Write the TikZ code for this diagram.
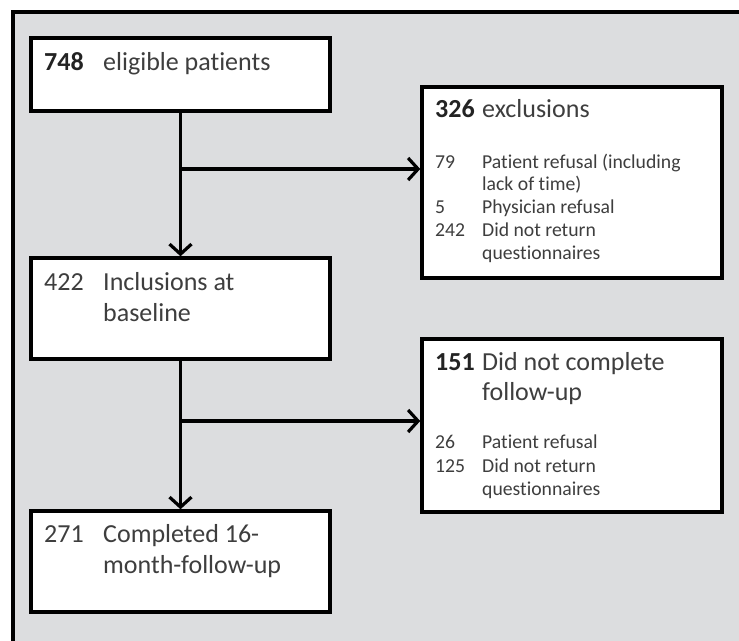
\documentclass[tikz,border=0pt]{standalone}
\usepackage{fontspec}
\setmainfont{Carlito}[Ligatures=NoCommon]
\usetikzlibrary{arrows.meta}
\definecolor{panelgrey}{RGB}{220,221,223}
\definecolor{inkgrey}{RGB}{62,62,62}
\definecolor{numgrey}{RGB}{35,35,35}
\tikzset{
  box/.style={draw=black,fill=white,line width=3.5pt,inner sep=0pt},
  arr/.style={line width=3.2pt,-{Straight Barb[length=10pt,width=22pt]}},
  big/.style={anchor=base west,inner sep=0pt,text=inkgrey,font=\fontsize{26}{31}\selectfont},
  small/.style={anchor=base west,inner sep=0pt,text=inkgrey,font=\fontsize{19.7}{23}\selectfont},
}
\newcommand{\bnum}[1]{\textcolor{numgrey}{\textbf{#1}}}
\begin{document}
\begin{tikzpicture}[x=1pt,y=-1pt]
\useasboundingbox (0,0) rectangle (739,640);
\clip (0,0) rectangle (739,640);
\fill[panelgrey] (13,12) rectangle (750,650);
\draw[line width=3.5pt] (13,650) -- (13,12) -- (750,12);
% boxes
\node[box,minimum width=299,minimum height=73] (elig) at (180.5,74.5) {};
\node[box,minimum width=299,minimum height=101] (incl) at (180.5,308.5) {};
\node[box,minimum width=299,minimum height=101] (compl) at (180.5,561.5) {};
\node[box,minimum width=300,minimum height=191] (excl) at (572,182.5) {};
\node[box,minimum width=300,minimum height=173] (drop) at (572,425.5) {};
% connectors
\coordinate (j1) at (elig.south |- 0,169);
\coordinate (j2) at (incl.south |- 0,421);
\draw[arr] (elig.south) -- (incl.north);
\draw[arr] (j1) -- (j1 -| excl.west);
\draw[arr] (incl.south) -- (compl.north);
\draw[arr] (j2) -- (j2 -| drop.west);
% left column
\node[big] (n748) at (44,70) {\bnum{748}};
\node[big] (t748) at (103,70) {eligible patients};
\node[big] (n422) at (44,290) {422};
\node[big] (t422a) at (103,290) {Inclusions at};
\node[big] (t422b) at (103,321) {baseline};
\node[big] (n271) at (44,542) {271};
\node[big] (t271a) at (103,542) {Completed 16-};
\node[big] (t271b) at (103,573) {month-follow-up};
% exclusions
\node[big] (n326) at (435,117) {\bnum{326}};
\node[big] (t326) at (482,117) {exclusions};
\node[small] (n79) at (435,168) {79};
\node[small] (t79a) at (482,168) {Patient refusal (including};
\node[small] (t79b) at (482,190) {lack of time)};
\node[small] (n5) at (435,213) {5};
\node[small] (t5) at (482,213) {Physician refusal};
\node[small] (n242) at (435,236) {242};
\node[small] (t242a) at (482,236) {Did not return};
\node[small] (t242b) at (482,259) {questionnaires};
% lost to follow-up
\node[big] (n151) at (435,370) {\bnum{151}};
\node[big] (t151a) at (482,370) {Did not complete};
\node[big] (t151b) at (482,400) {follow-up};
\node[small] (n26) at (435,448) {26};
\node[small] (t26) at (482,448) {Patient refusal};
\node[small] (n125) at (435,472) {125};
\node[small] (t125a) at (482,472) {Did not return};
\node[small] (t125b) at (482,495) {questionnaires};
\end{tikzpicture}
\end{document}
